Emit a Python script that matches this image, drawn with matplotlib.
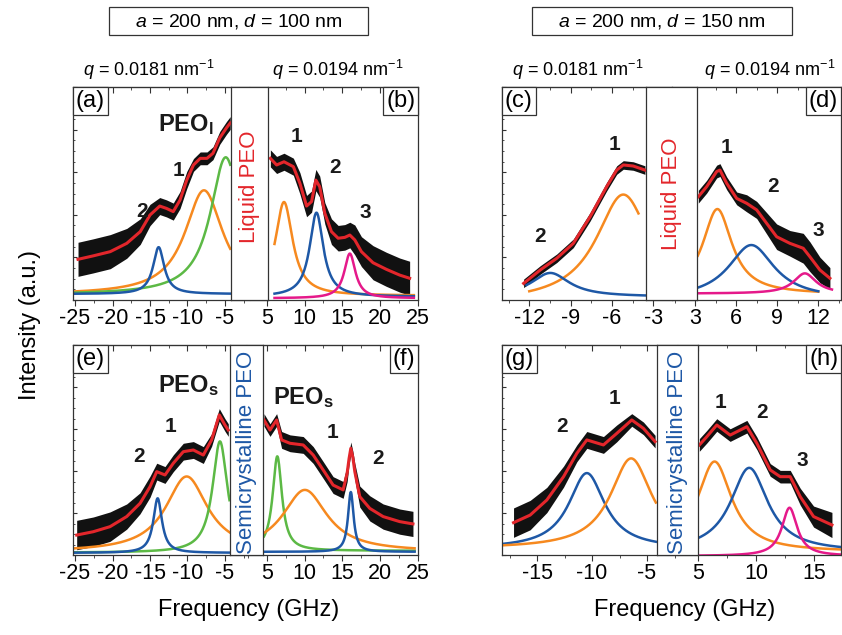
import matplotlib
matplotlib.use('Agg')
import matplotlib.pyplot as plt
import numpy as np
from matplotlib.ticker import MultipleLocator
from matplotlib.offsetbox import AnchoredText
from matplotlib.patches import Rectangle

plt.rcParams['font.family'] = ['Liberation Sans', 'DejaVu Sans']
plt.rcParams['mathtext.fontset'] = 'custom'
plt.rcParams['mathtext.rm'] = 'Liberation Sans'
plt.rcParams['mathtext.it'] = 'Liberation Sans:italic'
plt.rcParams['mathtext.bf'] = 'Liberation Sans:bold'
plt.rcParams['axes.unicode_minus'] = False

# ---- data (frequency in GHz, intensity in % of panel height) ----
# red fit curves
a_fit_f = [-24.6, -22.6, -20.3, -18.1, -16.3, -15.0, -13.7, -12.8, -11.9, -11.0, -10.1, -9.2, -8.3, -7.4, -6.6, -5.7, -4.8, -4.3]
a_fit_v = [19.1, 20.7, 22.7, 26.6, 32.1, 39.9, 44.1, 43.0, 41.5, 46.9, 56.3, 63.4, 66.5, 66.5, 68.9, 76.1, 80.8, 83.1]
b_fit_f = [5.45, 6.28, 7.26, 8.5, 9.37, 10.26, 10.92, 11.49, 12.0, 12.68, 13.56, 14.45, 15.33, 16.0, 16.66, 17.54, 19.08, 20.85, 22.62, 23.94]
b_fit_v = [66.5, 63.4, 64.9, 62.6, 54.8, 44.1, 46.2, 56.3, 53.2, 40.7, 32.1, 29.0, 29.4, 30.5, 28.2, 22.7, 17.5, 14.4, 11.7, 10.2]
c_fit_f = [-12.41, -11.2, -10.0, -8.8, -7.58, -6.38, -5.65, -5.17, -4.45, -3.6]
c_fit_v = [7.8, 14.1, 19.6, 26.6, 39.1, 53.2, 61.0, 63.4, 62.9, 61.0]
d_fit_f = [3.24, 3.85, 4.58, 4.82, 5.31, 6.04, 6.77, 7.5, 8.23, 8.96, 9.93, 10.9, 11.39, 12.12, 12.85]
d_fit_v = [48.5, 53.2, 60.3, 61.0, 54.8, 47.7, 45.4, 42.3, 36.0, 29.7, 26.6, 24.3, 20.3, 14.1, 10.2]
e_fit_f = [-24.78, -22.56, -20.33, -18.11, -16.33, -15.0, -14.1, -13.0, -11.89, -10.56, -9.22, -7.89, -6.78, -5.76, -5.0, -4.56]
e_fit_v = [9.5, 11.1, 13.5, 18.3, 24.6, 32.5, 39.7, 38.1, 43.7, 49.2, 50.0, 47.6, 54.8, 66.7, 61.9, 59.5]
f_fit_f = [4.6, 5.4, 6.28, 6.94, 8.05, 9.81, 11.14, 12.46, 13.78, 15.11, 15.64, 15.9, 16.13, 16.4, 16.66, 17.32, 18.65, 20.42, 22.62, 24.38]
f_fit_v = [64.3, 59.5, 64.3, 54.8, 53.2, 52.4, 47.6, 40.5, 33.3, 31.0, 38.9, 46.0, 50.8, 46.5, 39.7, 27.8, 22.2, 18.3, 15.9, 14.8]
g_fit_f = [-17.15, -15.64, -14.12, -12.6, -11.39, -10.48, -8.97, -7.76, -6.39, -5.33, -4.27]
g_fit_v = [15.4, 19.0, 26.2, 37.3, 48.4, 54.8, 52.4, 57.9, 64.3, 60.3, 54.0]
h_fit_f = [5.11, 5.75, 6.61, 7.76, 9.2, 10.06, 11.21, 12.07, 12.93, 13.79, 14.94, 16.52]
h_fit_v = [52.4, 56.3, 61.9, 57.1, 61.1, 53.2, 40.5, 37.3, 37.3, 27.8, 18.3, 14.3]

# half-width of the noisy black data band at each fit point
a_noise = [8, 8, 8, 7, 6, 5, 4, 4, 4, 4, 4, 3, 3, 3, 3, 3, 3, 3]
b_noise = [4, 4, 4, 4, 5, 5, 5, 5, 5, 5, 6, 6, 6, 6, 7, 7, 8, 8, 8, 8]
c_noise = [2, 2, 2, 2, 2, 2, 2, 2, 2, 2]
d_noise = [3, 3, 3, 3, 3, 3, 4, 4, 5, 6, 6, 7, 7, 6, 5]
e_noise = [7, 7, 7, 6, 5, 5, 4, 4, 4, 4, 4, 4, 3, 3, 3, 3]
f_noise = [3, 3, 3, 4, 4, 4, 4, 4, 4, 4, 4, 3, 3, 3, 4, 5, 6, 6, 6, 6]
g_noise = [7, 7, 6, 5, 4, 4, 4, 4, 3, 3, 3]
h_noise = [3, 3, 3, 3, 3, 3, 3, 3, 3, 4, 5, 6]

# Lorentzian components: (centre, hwhm, amplitude, baseline, f_start, f_end)
a_peaks = {'orange': (-7.8, 3.1, 49, 2.5, -25.0, -4.3), 'green': (-4.9, 2.5, 64.5, 2.5, -25.0, -4.3),
           'blue': (-13.85, 0.9, 22, 2.8, -25.0, -4.3)}
b_peaks = {'orange': (7.26, 1.4, 44, 2.0, 6.0, 24.5), 'blue': (11.57, 1.1, 39.5, 1.5, 6.0, 24.5),
           'magenta': (16.0, 0.9, 21, 0.8, 6.0, 24.5)}
c_peaks = {'orange': (-5.17, 2.4, 51, -1.5, -12.0, -4.07), 'blue': (-10.47, 1.7, 11.2, 1.5, -12.2, -3.5)}
d_peaks = {'orange': (4.63, 1.3, 40, 2.7, 3.2, 12.0), 'blue': (7.11, 2.05, 25.5, 0.3, 3.2, 12.0),
           'magenta': (11.02, 1.0, 9.5, 3.0, 3.2, 13.0)}
e_peaks = {'orange': (-10.11, 3.4, 36, 1.4, -25.0, -4.4), 'green': (-5.67, 1.2, 53, 1.1, -25.0, -4.4),
           'blue': (-13.98, 0.7, 26, 1.0, -25.0, -4.4)}
f_peaks = {'green': (6.37, 0.75, 45, 2.0, 4.6, 24.6), 'orange': (10.03, 3.6, 29.5, 1.5, 4.6, 24.6),
           'blue': (16.13, 0.45, 28.5, 1.5, 4.6, 24.6)}
g_peaks = {'blue': (-10.48, 2.0, 36, 3.0, -18.2, -4.2), 'orange': (-6.45, 2.3, 43, 3.0, -18.2, -4.2)}
h_peaks = {'orange': (6.42, 1.8, 43, 1.5, 5.0, 17.3), 'blue': (9.4, 1.95, 40, 1.5, 5.0, 17.3),
           'magenta': (12.87, 0.8, 23, -0.5, 5.0, 17.3)}

ticks_ae = [-25, -20, -15, -10, -5]
ticks_bf = [5, 10, 15, 20, 25]
ticks_c = [-12, -9, -6, -3]
ticks_d = [3, 6, 9, 12]
ticks_g = [-15, -10, -5]
ticks_h = [5, 10, 15]

COLORS = {'red': '#e3262b', 'orange': '#f6891f', 'green': '#5cb945', 'blue': '#1e58a6',
          'magenta': '#e5198a', 'black': '#111111'}
EDGE = '#333333'

W, H = 842, 635
fig = plt.figure(figsize=(W / 100, H / 100), dpi=100)


def rect(x0, y0, x1, y1):
    return [x0 / W, 1 - y1 / H, (x1 - x0) / W, (y1 - y0) / H]


def lor(x, c, w, a, b):
    return b + a / (1 + ((x - c) / w) ** 2)


def half(box, xlim, side, fx, fv, nz, peaks, majors, minor, label):
    ax = fig.add_axes(rect(*box))
    ax.set_xlim(xlim)
    ax.set_ylim(0, 100)
    ax.spines['right' if side == 'left' else 'left'].set_visible(False)
    for s in ax.spines.values():
        s.set_color(EDGE)
        s.set_linewidth(0.9)
    fx = np.array(fx)
    fv = np.array(fv)
    nz = np.array(nz)
    ax.fill_between(fx, fv - nz, fv + nz, color=COLORS['black'], lw=0, zorder=1)
    for name, (c, w, a, b, x0, x1) in peaks.items():
        xx = np.linspace(x0, x1, 400)
        ax.plot(xx, lor(xx, c, w, a, b), color=COLORS[name], lw=1.8, zorder=2)
    ax.plot(fx, fv, color=COLORS['red'], lw=2.2, zorder=3)
    ax.set_xticks(majors)
    ax.xaxis.set_minor_locator(MultipleLocator(minor))
    ax.tick_params(axis='x', which='both', direction='out', top=False, labelsize=15.5,
                   pad=2, color=EDGE)
    ax.tick_params(axis='x', which='major', length=4)
    ax.tick_params(axis='x', which='minor', length=2.5)
    if side == 'left':
        ax.yaxis.set_major_locator(MultipleLocator(20))
        ax.yaxis.set_minor_locator(MultipleLocator(5))
        ax.tick_params(axis='y', which='both', direction='in', labelleft=False, color=EDGE)
        ax.tick_params(axis='y', which='major', length=3)
        ax.tick_params(axis='y', which='minor', length=1.5)
    else:
        ax.set_yticks([])
    sec = ax.secondary_xaxis('top')
    sec.set_xticks(majors)
    sec.xaxis.set_minor_locator(MultipleLocator(minor))
    sec.tick_params(which='both', direction='in', labeltop=False, color=EDGE)
    sec.tick_params(which='major', length=4)
    sec.tick_params(which='minor', length=2.5)
    sec.spines['top'].set_color(EDGE)
    at = AnchoredText(label, loc='upper left' if side == 'left' else 'upper right',
                      prop=dict(size=17), frameon=True, pad=0.12, borderpad=0)
    at.patch.set_boxstyle('square,pad=0')
    at.patch.set_edgecolor(EDGE)
    at.patch.set_linewidth(0.9)
    at.set_zorder(6)
    ax.add_artist(at)
    return ax


def middle(box, text, color, ty):
    bx = fig.add_axes(rect(*box))
    bx.set_xticks([])
    bx.set_yticks([])
    bx.set_facecolor('white')
    for s in bx.spines.values():
        s.set_color(EDGE)
        s.set_linewidth(0.9)
    bx.text(0.5, ty, text, rotation=90, color=color, fontsize=16, ha='center', va='center',
            transform=bx.transAxes)
    bx.set_zorder(5)
    return bx


top = (87, 300)
bot = (345, 555)

# (a)/(b)
half((73, top[0], 249.5, top[1]), (-25.27, -1.73), 'left', a_fit_f, a_fit_v, a_noise, a_peaks, ticks_ae, 2.5, '(a)')
half((249.5, top[0], 418, top[1]), (2.68, 25.05), 'right', b_fit_f, b_fit_v, b_noise, b_peaks, ticks_bf, 2.5, '(b)')
middle((231, top[0], 268, top[1]), 'Liquid PEO', COLORS['red'], 0.53)
# (c)/(d)
half((502, top[0], 671.5, top[1]), (-13.98, -1.67), 'left', c_fit_f, c_fit_v, c_noise, c_peaks, ticks_c, 1.5, '(c)')
half((671.5, top[0], 841, top[1]), (1.28, 13.66), 'right', d_fit_f, d_fit_v, d_noise, d_peaks, ticks_d, 1.5, '(d)')
middle((646, top[0], 697, top[1]), 'Liquid PEO', COLORS['red'], 0.5)
# (e)/(f)
half((73, bot[0], 246.5, bot[1]), (-25.27, -2.13), 'left', e_fit_f, e_fit_v, e_noise, e_peaks, ticks_ae, 2.5, '(e)')
half((246.5, bot[0], 418, bot[1]), (2.28, 25.05), 'right', f_fit_f, f_fit_v, f_noise, f_peaks, ticks_bf, 2.5, '(f)')
middle((230, bot[0], 263, bot[1]), 'Semicrystalline PEO', COLORS['blue'], 0.49)
# (g)/(h)
half((502, bot[0], 677.5, bot[1]), (-18.2, -2.23), 'left', g_fit_f, g_fit_v, g_noise, g_peaks, ticks_g, 2.5, '(g)')
half((677.5, bot[0], 841, bot[1]), (3.23, 17.3), 'right', h_fit_f, h_fit_v, h_noise, h_peaks, ticks_h, 2.5, '(h)')
middle((657, bot[0], 698, bot[1]), 'Semicrystalline PEO', COLORS['blue'], 0.49)


def ftext(px, py, s, **kw):
    fig.text(px / W, 1 - py / H, s, ha='center', va='center', **kw)


# peak numbers
for px, py, s in [(178, 171, '1'), (142, 212, '2'), (297, 137, '1'), (335, 167, '2'), (365, 213, '3'),
                  (615, 144, '1'), (540, 237, '2'), (727, 148, '1'), (773, 187, '2'), (818, 230, '3'),
                  (170, 427, '1'), (139, 457, '2'), (333, 433, '1'), (378, 458, '2'),
                  (615, 398, '1'), (562, 427, '2'), (720, 403, '1'), (762, 413, '2'), (802, 460, '3')]:
    ftext(px, py, s, fontsize=15, fontweight='bold', color='#1a1a1a')

ftext(186, 125, r'$\mathbf{PEO}_{\mathbf{l}}$', fontsize=17, color='#1a1a1a')
ftext(188, 386, r'$\mathbf{PEO}_{\mathbf{s}}$', fontsize=17, color='#1a1a1a')
ftext(303, 398, r'$\mathbf{PEO}_{\mathbf{s}}$', fontsize=17, color='#1a1a1a')

# wavevector labels
ftext(149, 70, r'$q$ = 0.0181 nm$^{-1}$', fontsize=13)
ftext(338, 70, r'$q$ = 0.0194 nm$^{-1}$', fontsize=13)
ftext(578, 70, r'$q$ = 0.0181 nm$^{-1}$', fontsize=13)
ftext(770, 70, r'$q$ = 0.0194 nm$^{-1}$', fontsize=13)

# header boxes
for x0, x1, s in [(109, 368, r'$a$ = 200 nm, $d$ = 100 nm'), (532, 792, r'$a$ = 200 nm, $d$ = 150 nm')]:
    fig.add_artist(Rectangle((x0 / W, 1 - 35 / H), (x1 - x0) / W, 28 / H, transform=fig.transFigure,
                             fill=False, ec=EDGE, lw=0.9))
    ftext((x0 + x1) / 2, 21.5, s, fontsize=14)

ftext(249, 610, 'Frequency (GHz)', fontsize=17)
ftext(685, 610, 'Frequency (GHz)', fontsize=17)
ftext(30, 325, 'Intensity (a.u.)', fontsize=17, rotation=90)

fig.savefig('out.png', dpi=100)
